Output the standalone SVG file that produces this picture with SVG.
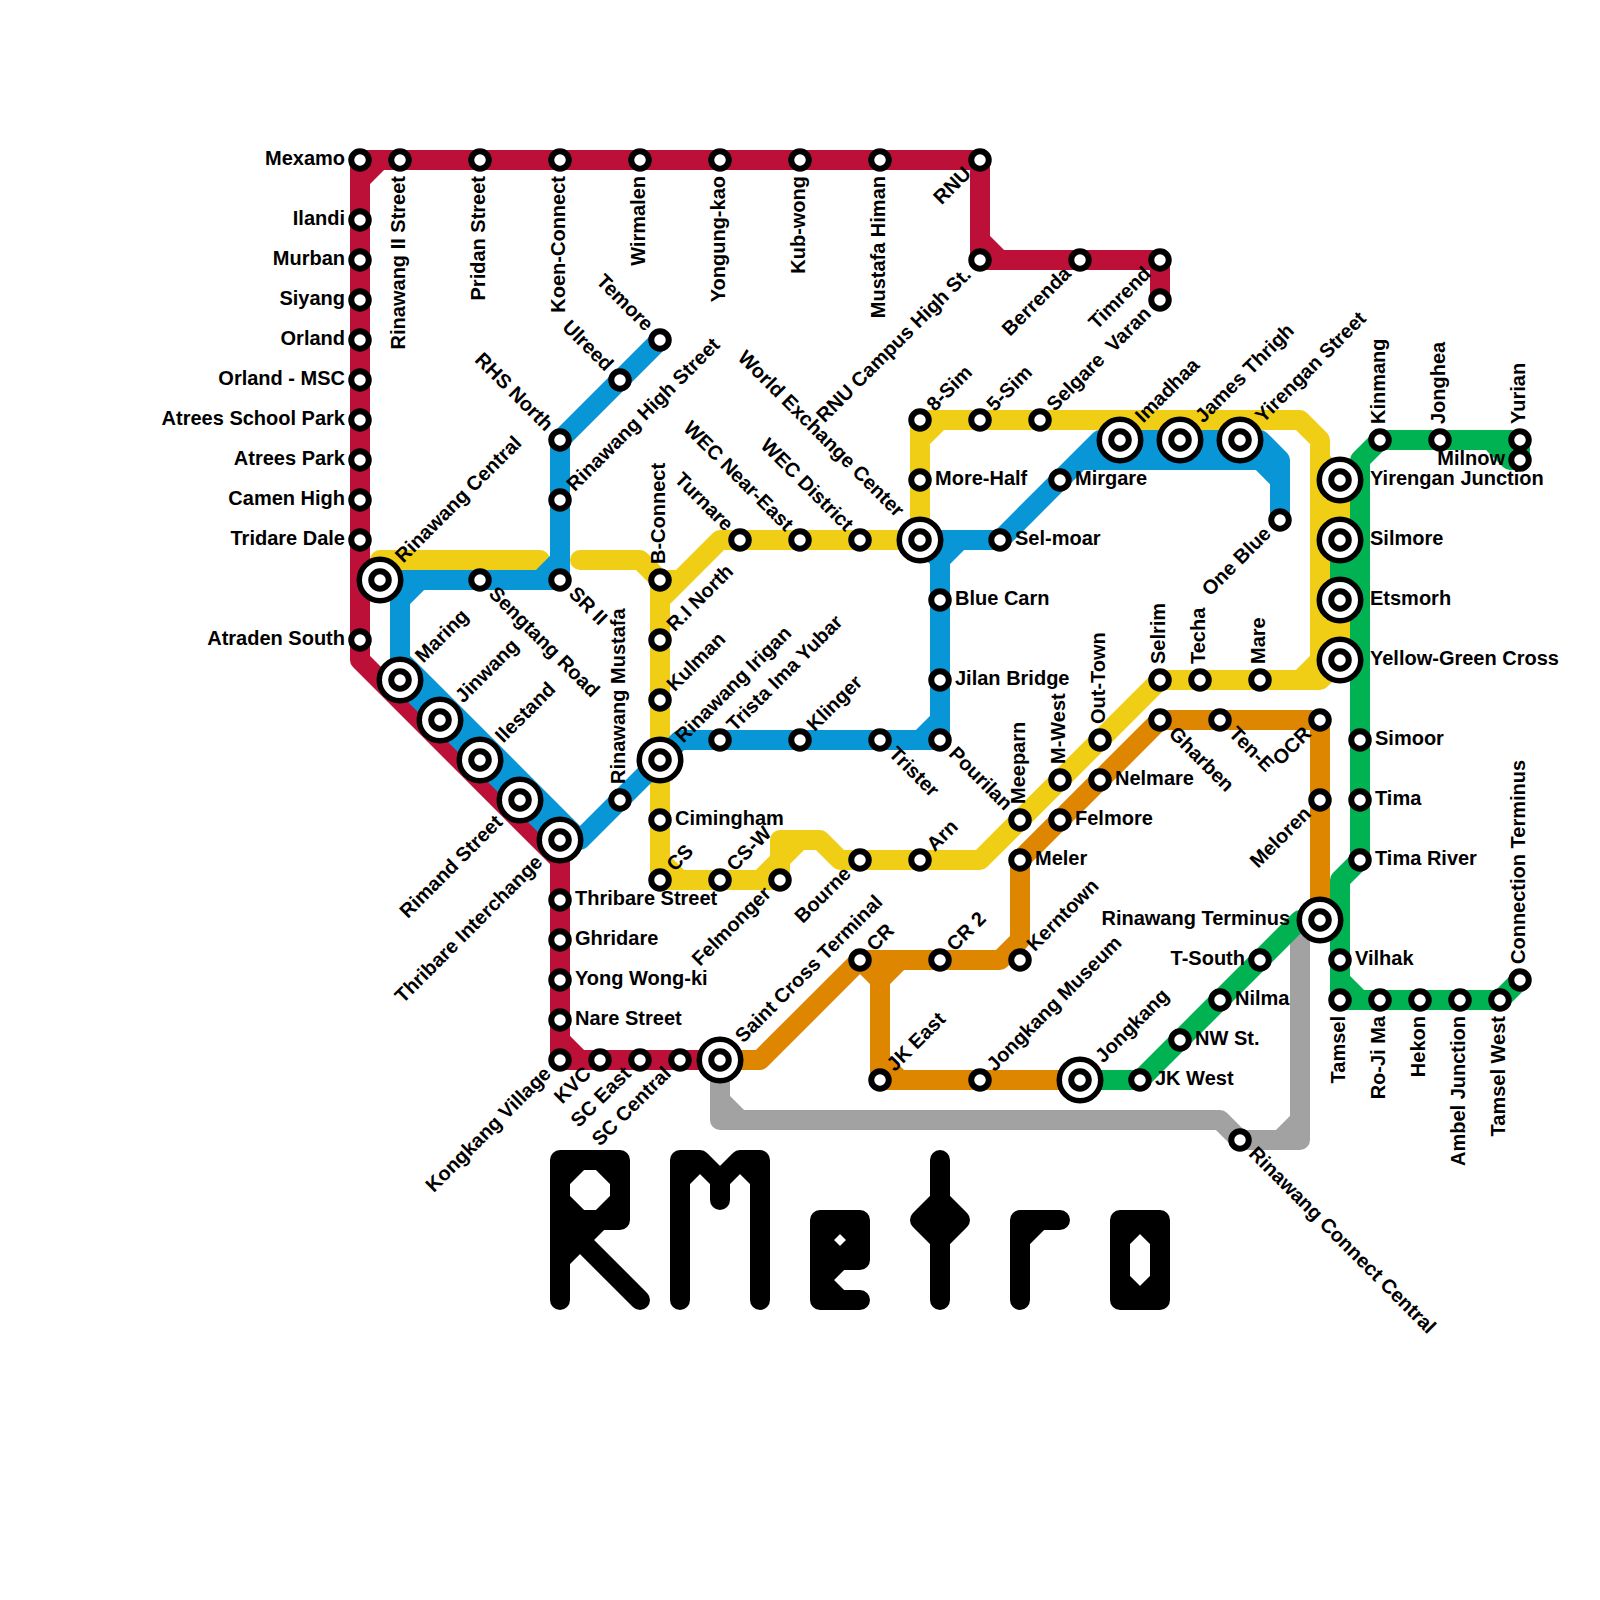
<svg xmlns="http://www.w3.org/2000/svg" width="1600" height="1600" viewBox="0 0 1600 1600">
<style>
.l{fill:none;stroke-width:20;stroke-linecap:round;stroke-linejoin:round}
.r{stroke:#bd1038}.y{stroke:#f0ce15}.b{stroke:#0896d7}.o{stroke:#df8600}.g{stroke:#00b251}.a{stroke:#a2a2a2}.k{stroke:#000}
.s{fill:#fff;stroke:#000;stroke-width:6}
.i{fill:#fff;stroke:#000;stroke-width:5.5}
text{font-family:"Liberation Sans",Arial,sans-serif;font-size:20px;font-weight:700;fill:#000}
.e{text-anchor:end}
</style>
<rect width="1600" height="1600" fill="#fff"/>
<g id="connectors">
<path class="l r" d="M360 160H980V240L1000 260H1160V300M980 240V260H1000M400 160H380L360 180V660L560 860V1040L580 1060H720M360 160V180M560 1040V1060H580"/>
<path class="l a" d="M720 1060V1120H1220L1240 1140H1300V940M720 1100L740 1120M1300 1120L1280 1140"/>
<path class="l o" d="M720 1060H760L860 960H1000L1020 940V860L1160 720H1320V920M860 960L880 980V1080H1080M880 980L900 960M880 1060L900 1080"/>
<path class="l y" d="M380 560H540M580 560H640L660 580H680M660 580V880H760L780 860V840H820L840 860H980L1160 680H1320M1300 680L1320 660V440L1300 420H940L920 440V540H720L660 600M660 860L680 880M760 880H780V860L800 840M920 420V440M920 420H940M1180 440H1240M1320 460L1340 480V540M1340 600V660L1320 680"/>
<path class="l g" d="M1520 440H1380L1360 460V860L1340 880V1000H1500L1520 980M1340 980L1360 1000M1490 440L1510 460H1520V440M1340 540V600M1080 1080H1140L1300 920H1320"/>
<path class="l b" d="M660 340L560 440V560L540 580H380M560 560V580H540M420 580L400 600V680L560 840H580L660 760L680 740H920L940 720V560L960 540H920M400 660L580 840M940 740V720M920 740H940M940 560L920 540M960 540H1000L1100 440H1260L1280 460V520M1080 460H1260L1280 480"/>
</g>
<g id="logo">
<path class="l k" d="M560 1300V1160H620V1220H560L640 1300M560 1180L580 1160M600 1160L620 1180M620 1200L600 1220M580 1220L560 1200M600 1220L560 1260"/>
<path class="l k" d="M680 1300V1160H700L720 1180L740 1160H760V1300M680 1180L700 1160M720 1180V1200M740 1160L760 1180"/>
<path class="l k" d="M860 1220H820V1300H860M860 1220V1260H820M820 1240L840 1220L860 1240L840 1260ZM840 1260L820 1280L840 1300"/>
<path class="l k" d="M940 1160V1300M940 1200L920 1220L940 1240L960 1220ZM920 1220H960"/>
<path class="l k" d="M1020 1300V1220H1060M1040 1220L1020 1240"/>
<path class="l k" d="M1120 1220H1160V1300H1120ZM1120 1240L1140 1220L1160 1240M1120 1280L1140 1300L1160 1280"/>
</g>
<g id="mexamo"><circle class="s" cx="360" cy="160" r="8.75"/><text class="e" x="345" y="165">Mexamo</text></g>
<g id="ilandi"><circle class="s" cx="360" cy="220" r="8.75"/><text class="e" x="345" y="225">Ilandi</text></g>
<g id="murban"><circle class="s" cx="360" cy="260" r="8.75"/><text class="e" x="345" y="265">Murban</text></g>
<g id="siyang"><circle class="s" cx="360" cy="300" r="8.75"/><text class="e" x="345" y="305">Siyang</text></g>
<g id="orland"><circle class="s" cx="360" cy="340" r="8.75"/><text class="e" x="345" y="345">Orland</text></g>
<g id="orland-msc"><circle class="s" cx="360" cy="380" r="8.75"/><text class="e" x="345" y="385">Orland - MSC</text></g>
<g id="atrees-school-park"><circle class="s" cx="360" cy="420" r="8.75"/><text class="e" x="345" y="425">Atrees School Park</text></g>
<g id="atrees-park"><circle class="s" cx="360" cy="460" r="8.75"/><text class="e" x="345" y="465">Atrees Park</text></g>
<g id="camen-high"><circle class="s" cx="360" cy="500" r="8.75"/><text class="e" x="345" y="505">Camen High</text></g>
<g id="tridare-dale"><circle class="s" cx="360" cy="540" r="8.75"/><text class="e" x="345" y="545">Tridare Dale</text></g>
<g id="atraden-south"><circle class="s" cx="360" cy="640" r="8.75"/><text class="e" x="345" y="645">Atraden South</text></g>
<g id="rinawang-ii-street"><circle class="s" cx="400" cy="160" r="8.75"/><text class="e" transform="translate(405 176) rotate(-90)">Rinawang II Street</text></g>
<g id="pridan-street"><circle class="s" cx="480" cy="160" r="8.75"/><text class="e" transform="translate(485 176) rotate(-90)">Pridan Street</text></g>
<g id="koen-connect"><circle class="s" cx="560" cy="160" r="8.75"/><text class="e" transform="translate(565 176) rotate(-90)">Koen-Connect</text></g>
<g id="wirmalen"><circle class="s" cx="640" cy="160" r="8.75"/><text class="e" transform="translate(645 176) rotate(-90)">Wirmalen</text></g>
<g id="yongung-kao"><circle class="s" cx="720" cy="160" r="8.75"/><text class="e" transform="translate(725 176) rotate(-90)">Yongung-kao</text></g>
<g id="kub-wong"><circle class="s" cx="800" cy="160" r="8.75"/><text class="e" transform="translate(805 176) rotate(-90)">Kub-wong</text></g>
<g id="mustafa-himan"><circle class="s" cx="880" cy="160" r="8.75"/><text class="e" transform="translate(885 176) rotate(-90)">Mustafa Himan</text></g>
<g id="rnu"><circle class="s" cx="980" cy="160" r="8.75"/><text class="e" transform="translate(972.2 174.8) rotate(-45)">RNU</text></g>
<g id="rnu-campus-high-st"><circle class="s" cx="980" cy="260" r="8.75"/><text class="e" transform="translate(972.2 275.8) rotate(-45)">RNU Campus High St.</text></g>
<g id="berrenda"><circle class="s" cx="1080" cy="260" r="8.75"/><text class="e" transform="translate(1072.2 274.8) rotate(-45)">Berrenda</text></g>
<g id="timrend"><circle class="s" cx="1160" cy="260" r="8.75"/><text class="e" transform="translate(1152.2 274.8) rotate(-45)">Timrend</text></g>
<g id="varan"><circle class="s" cx="1160" cy="300" r="8.75"/><text class="e" transform="translate(1152.2 314.8) rotate(-45)">Varan</text></g>
<g id="temore"><circle class="s" cx="660" cy="340" r="8.75"/><text class="e" transform="translate(645.2 332.2) rotate(45)">Temore</text></g>
<g id="ulreed"><circle class="s" cx="620" cy="380" r="8.75"/><text class="e" transform="translate(605.2 372.2) rotate(45)">Ulreed</text></g>
<g id="rhs-north"><circle class="s" cx="560" cy="440" r="8.75"/><text class="e" transform="translate(545.2 432.2) rotate(45)">RHS North</text></g>
<g id="rinawang-high-street"><circle class="s" cx="560" cy="500" r="8.75"/><text transform="translate(574.8 492.2) rotate(-45)">Rinawang High Street</text></g>
<g id="sr-ii"><circle class="s" cx="560" cy="580" r="8.75"/><text transform="translate(567.8 594.8) rotate(45)">SR II</text></g>
<g id="sengtang-road"><circle class="s" cx="480" cy="580" r="8.75"/><text transform="translate(487.8 594.8) rotate(45)">Sengtang Road</text></g>
<g id="rinawang-central"><circle class="i" cx="380" cy="580" r="20.75"/><circle class="s" cx="380" cy="580" r="8.75"/><text transform="translate(403.3 563.7) rotate(-45)">Rinawang Central</text></g>
<g id="maring"><circle class="i" cx="400" cy="680" r="20.75"/><circle class="s" cx="400" cy="680" r="8.75"/><text transform="translate(423.3 663.7) rotate(-45)">Maring</text></g>
<g id="jinwang"><circle class="i" cx="440" cy="720" r="20.75"/><circle class="s" cx="440" cy="720" r="8.75"/><text transform="translate(463.3 703.7) rotate(-45)">Jinwang</text></g>
<g id="ilestand"><circle class="i" cx="480" cy="760" r="20.75"/><circle class="s" cx="480" cy="760" r="8.75"/><text transform="translate(503.3 743.7) rotate(-45)">Ilestand</text></g>
<g id="rimand-street"><circle class="i" cx="520" cy="800" r="20.75"/><circle class="s" cx="520" cy="800" r="8.75"/><text class="e" transform="translate(503.7 823.3) rotate(-45)">Rimand Street</text></g>
<g id="thribare-interchange"><circle class="i" cx="560" cy="840" r="20.75"/><circle class="s" cx="560" cy="840" r="8.75"/><text class="e" transform="translate(543.7 863.3) rotate(-45)">Thribare Interchange</text></g>
<g id="thribare-street"><circle class="s" cx="560" cy="900" r="8.75"/><text x="575" y="905">Thribare Street</text></g>
<g id="ghridare"><circle class="s" cx="560" cy="940" r="8.75"/><text x="575" y="945">Ghridare</text></g>
<g id="yong-wong-ki"><circle class="s" cx="560" cy="980" r="8.75"/><text x="575" y="985">Yong Wong-ki</text></g>
<g id="nare-street"><circle class="s" cx="560" cy="1020" r="8.75"/><text x="575" y="1025">Nare Street</text></g>
<g id="kongkang-village"><circle class="s" cx="560" cy="1060" r="8.75"/><text class="e" transform="translate(552.2 1074.8) rotate(-45)">Kongkang Village</text></g>
<g id="kvc"><circle class="s" cx="600" cy="1060" r="8.75"/><text class="e" transform="translate(592.2 1074.8) rotate(-45)">KVC</text></g>
<g id="sc-east"><circle class="s" cx="640" cy="1060" r="8.75"/><text class="e" transform="translate(632.2 1074.8) rotate(-45)">SC East</text></g>
<g id="sc-central"><circle class="s" cx="680" cy="1060" r="8.75"/><text class="e" transform="translate(672.2 1074.8) rotate(-45)">SC Central</text></g>
<g id="saint-cross-terminal"><circle class="i" cx="720" cy="1060" r="20.75"/><circle class="s" cx="720" cy="1060" r="8.75"/><text transform="translate(743.3 1043.7) rotate(-45)">Saint Cross Terminal</text></g>
<g id="rinawang-mustafa"><circle class="s" cx="620" cy="800" r="8.75"/><text transform="translate(625 784) rotate(-90)">Rinawang Mustafa</text></g>
<g id="b-connect"><circle class="s" cx="660" cy="580" r="8.75"/><text transform="translate(665 564) rotate(-90)">B-Connect</text></g>
<g id="ri-north"><circle class="s" cx="660" cy="640" r="8.75"/><text transform="translate(674.8 632.2) rotate(-45)">R.I North</text></g>
<g id="kulman"><circle class="s" cx="660" cy="700" r="8.75"/><text transform="translate(674.8 692.2) rotate(-45)">Kulman</text></g>
<g id="rinawang-irigan"><circle class="i" cx="660" cy="760" r="20.75"/><circle class="s" cx="660" cy="760" r="8.75"/><text transform="translate(683.3 743.7) rotate(-45)">Rinawang Irigan</text></g>
<g id="cimingham"><circle class="s" cx="660" cy="820" r="8.75"/><text x="675" y="825">Cimingham</text></g>
<g id="cs"><circle class="s" cx="660" cy="880" r="8.75"/><text transform="translate(674.8 872.2) rotate(-45)">CS</text></g>
<g id="cs-w"><circle class="s" cx="720" cy="880" r="8.75"/><text transform="translate(734.8 872.2) rotate(-45)">CS-W</text></g>
<g id="felmonger"><circle class="s" cx="780" cy="880" r="8.75"/><text class="e" transform="translate(772.2 894.8) rotate(-45)">Felmonger</text></g>
<g id="bourne"><circle class="s" cx="860" cy="860" r="8.75"/><text class="e" transform="translate(852.2 874.8) rotate(-45)">Bourne</text></g>
<g id="arn"><circle class="s" cx="920" cy="860" r="8.75"/><text transform="translate(934.8 852.2) rotate(-45)">Arn</text></g>
<g id="turnare"><circle class="s" cx="740" cy="540" r="8.75"/><text class="e" transform="translate(725.2 532.2) rotate(45)">Turnare</text></g>
<g id="wec-near-east"><circle class="s" cx="800" cy="540" r="8.75"/><text class="e" transform="translate(785.2 532.2) rotate(45)">WEC Near-East</text></g>
<g id="wec-district"><circle class="s" cx="860" cy="540" r="8.75"/><text class="e" transform="translate(845.2 532.2) rotate(45)">WEC District</text></g>
<g id="world-exchange-center"><circle class="i" cx="920" cy="540" r="20.75"/><circle class="s" cx="920" cy="540" r="8.75"/><text class="e" transform="translate(896 518) rotate(45)">World Exchange Center</text></g>
<g id="more-half"><circle class="s" cx="920" cy="480" r="8.75"/><text x="935" y="485">More-Half</text></g>
<g id="s8-sim"><circle class="s" cx="920" cy="420" r="8.75"/><text transform="translate(934.8 412.2) rotate(-45)">8-Sim</text></g>
<g id="s5-sim"><circle class="s" cx="980" cy="420" r="8.75"/><text transform="translate(994.8 412.2) rotate(-45)">5-Sim</text></g>
<g id="selgare"><circle class="s" cx="1040" cy="420" r="8.75"/><text transform="translate(1054.8 412.2) rotate(-45)">Selgare</text></g>
<g id="imadhaa"><circle class="i" cx="1120" cy="440" r="20.75"/><circle class="s" cx="1120" cy="440" r="8.75"/><text transform="translate(1143.3 423.7) rotate(-45)">Imadhaa</text></g>
<g id="james-thrigh"><circle class="i" cx="1180" cy="440" r="20.75"/><circle class="s" cx="1180" cy="440" r="8.75"/><text transform="translate(1203.3 423.7) rotate(-45)">James Thrigh</text></g>
<g id="yirengan-street"><circle class="i" cx="1240" cy="440" r="20.75"/><circle class="s" cx="1240" cy="440" r="8.75"/><text transform="translate(1263.3 423.7) rotate(-45)">Yirengan Street</text></g>
<g id="mirgare"><circle class="s" cx="1060" cy="480" r="8.75"/><text x="1075" y="485">Mirgare</text></g>
<g id="sel-moar"><circle class="s" cx="1000" cy="540" r="8.75"/><text x="1015" y="545">Sel-moar</text></g>
<g id="one-blue"><circle class="s" cx="1280" cy="520" r="8.75"/><text class="e" transform="translate(1272.2 534.8) rotate(-45)">One Blue</text></g>
<g id="blue-carn"><circle class="s" cx="940" cy="600" r="8.75"/><text x="955" y="605">Blue Carn</text></g>
<g id="jilan-bridge"><circle class="s" cx="940" cy="680" r="8.75"/><text x="955" y="685">Jilan Bridge</text></g>
<g id="pourilan"><circle class="s" cx="940" cy="740" r="8.75"/><text transform="translate(947.8 754.8) rotate(45)">Pourilan</text></g>
<g id="trister"><circle class="s" cx="880" cy="740" r="8.75"/><text transform="translate(887.8 754.8) rotate(45)">Trister</text></g>
<g id="klinger"><circle class="s" cx="800" cy="740" r="8.75"/><text transform="translate(814.8 732.2) rotate(-45)">Klinger</text></g>
<g id="trista-ima-yubar"><circle class="s" cx="720" cy="740" r="8.75"/><text transform="translate(734.8 732.2) rotate(-45)">Trista Ima Yubar</text></g>
<g id="meeparn"><circle class="s" cx="1020" cy="820" r="8.75"/><text transform="translate(1025 804) rotate(-90)">Meeparn</text></g>
<g id="m-west"><circle class="s" cx="1060" cy="780" r="8.75"/><text transform="translate(1065 764) rotate(-90)">M-West</text></g>
<g id="out-town"><circle class="s" cx="1100" cy="740" r="8.75"/><text transform="translate(1105 724) rotate(-90)">Out-Town</text></g>
<g id="selrim"><circle class="s" cx="1160" cy="680" r="8.75"/><text transform="translate(1165 664) rotate(-90)">Selrim</text></g>
<g id="techa"><circle class="s" cx="1200" cy="680" r="8.75"/><text transform="translate(1205 664) rotate(-90)">Techa</text></g>
<g id="mare"><circle class="s" cx="1260" cy="680" r="8.75"/><text transform="translate(1265 664) rotate(-90)">Mare</text></g>
<g id="felmore"><circle class="s" cx="1060" cy="820" r="8.75"/><text x="1075" y="825">Felmore</text></g>
<g id="nelmare"><circle class="s" cx="1100" cy="780" r="8.75"/><text x="1115" y="785">Nelmare</text></g>
<g id="meler"><circle class="s" cx="1020" cy="860" r="8.75"/><text x="1035" y="865">Meler</text></g>
<g id="gharben"><circle class="s" cx="1160" cy="720" r="8.75"/><text transform="translate(1167.8 734.8) rotate(45)">Gharben</text></g>
<g id="ten-e"><circle class="s" cx="1220" cy="720" r="8.75"/><text transform="translate(1227.8 734.8) rotate(45)">Ten-E</text></g>
<g id="ocr"><circle class="s" cx="1320" cy="720" r="8.75"/><text class="e" transform="translate(1312.2 734.8) rotate(-45)">OCR</text></g>
<g id="meloren"><circle class="s" cx="1320" cy="800" r="8.75"/><text class="e" transform="translate(1312.2 814.8) rotate(-45)">Meloren</text></g>
<g id="cr"><circle class="s" cx="860" cy="960" r="8.75"/><text transform="translate(874.8 952.2) rotate(-45)">CR</text></g>
<g id="cr-2"><circle class="s" cx="940" cy="960" r="8.75"/><text transform="translate(954.8 952.2) rotate(-45)">CR 2</text></g>
<g id="kerntown"><circle class="s" cx="1020" cy="960" r="8.75"/><text transform="translate(1034.8 952.2) rotate(-45)">Kerntown</text></g>
<g id="jk-east"><circle class="s" cx="880" cy="1080" r="8.75"/><text transform="translate(894.8 1072.2) rotate(-45)">JK East</text></g>
<g id="jongkang-museum"><circle class="s" cx="980" cy="1080" r="8.75"/><text transform="translate(994.8 1072.2) rotate(-45)">Jongkang Museum</text></g>
<g id="jongkang"><circle class="i" cx="1080" cy="1080" r="20.75"/><circle class="s" cx="1080" cy="1080" r="8.75"/><text transform="translate(1103.3 1063.7) rotate(-45)">Jongkang</text></g>
<g id="jk-west"><circle class="s" cx="1140" cy="1080" r="8.75"/><text x="1155" y="1085">JK West</text></g>
<g id="nw-st"><circle class="s" cx="1180" cy="1040" r="8.75"/><text x="1195" y="1045">NW St.</text></g>
<g id="nilma"><circle class="s" cx="1220" cy="1000" r="8.75"/><text x="1235" y="1005">Nilma</text></g>
<g id="t-south"><circle class="s" cx="1260" cy="960" r="8.75"/><text class="e" x="1245" y="965">T-South</text></g>
<g id="rinawang-terminus"><circle class="i" cx="1320" cy="920" r="20.75"/><circle class="s" cx="1320" cy="920" r="8.75"/><text class="e" x="1290" y="925">Rinawang Terminus</text></g>
<g id="rinawang-connect-central"><circle class="s" cx="1240" cy="1140" r="8.75"/><text transform="translate(1247.8 1154.8) rotate(45)">Rinawang Connect Central</text></g>
<g id="yirengan-junction"><circle class="i" cx="1340" cy="480" r="20.75"/><circle class="s" cx="1340" cy="480" r="8.75"/><text x="1370" y="485">Yirengan Junction</text></g>
<g id="silmore"><circle class="i" cx="1340" cy="540" r="20.75"/><circle class="s" cx="1340" cy="540" r="8.75"/><text x="1370" y="545">Silmore</text></g>
<g id="etsmorh"><circle class="i" cx="1340" cy="600" r="20.75"/><circle class="s" cx="1340" cy="600" r="8.75"/><text x="1370" y="605">Etsmorh</text></g>
<g id="yellow-green-cross"><circle class="i" cx="1340" cy="660" r="20.75"/><circle class="s" cx="1340" cy="660" r="8.75"/><text x="1370" y="665">Yellow-Green Cross</text></g>
<g id="simoor"><circle class="s" cx="1360" cy="740" r="8.75"/><text x="1375" y="745">Simoor</text></g>
<g id="tima"><circle class="s" cx="1360" cy="800" r="8.75"/><text x="1375" y="805">Tima</text></g>
<g id="tima-river"><circle class="s" cx="1360" cy="860" r="8.75"/><text x="1375" y="865">Tima River</text></g>
<g id="vilhak"><circle class="s" cx="1340" cy="960" r="8.75"/><text x="1355" y="965">Vilhak</text></g>
<g id="tamsel"><circle class="s" cx="1340" cy="1000" r="8.75"/><text class="e" transform="translate(1345 1016) rotate(-90)">Tamsel</text></g>
<g id="ro-ji-ma"><circle class="s" cx="1380" cy="1000" r="8.75"/><text class="e" transform="translate(1385 1016) rotate(-90)">Ro-Ji Ma</text></g>
<g id="hekon"><circle class="s" cx="1420" cy="1000" r="8.75"/><text class="e" transform="translate(1425 1016) rotate(-90)">Hekon</text></g>
<g id="ambel-junction"><circle class="s" cx="1460" cy="1000" r="8.75"/><text class="e" transform="translate(1465 1016) rotate(-90)">Ambel Junction</text></g>
<g id="tamsel-west"><circle class="s" cx="1500" cy="1000" r="8.75"/><text class="e" transform="translate(1505 1016) rotate(-90)">Tamsel West</text></g>
<g id="connection-terminus"><circle class="s" cx="1520" cy="980" r="8.75"/><text transform="translate(1525 964) rotate(-90)">Connection Terminus</text></g>
<g id="kinmang"><circle class="s" cx="1380" cy="440" r="8.75"/><text transform="translate(1385 424) rotate(-90)">Kinmang</text></g>
<g id="jonghea"><circle class="s" cx="1440" cy="440" r="8.75"/><text transform="translate(1445 424) rotate(-90)">Jonghea</text></g>
<g id="yurian"><circle class="s" cx="1520" cy="440" r="8.75"/><text transform="translate(1525 424) rotate(-90)">Yurian</text></g>
<g id="milnow"><circle class="s" cx="1520" cy="460" r="8.75"/><text class="e" x="1505" y="465">Milnow</text></g>
</svg>
